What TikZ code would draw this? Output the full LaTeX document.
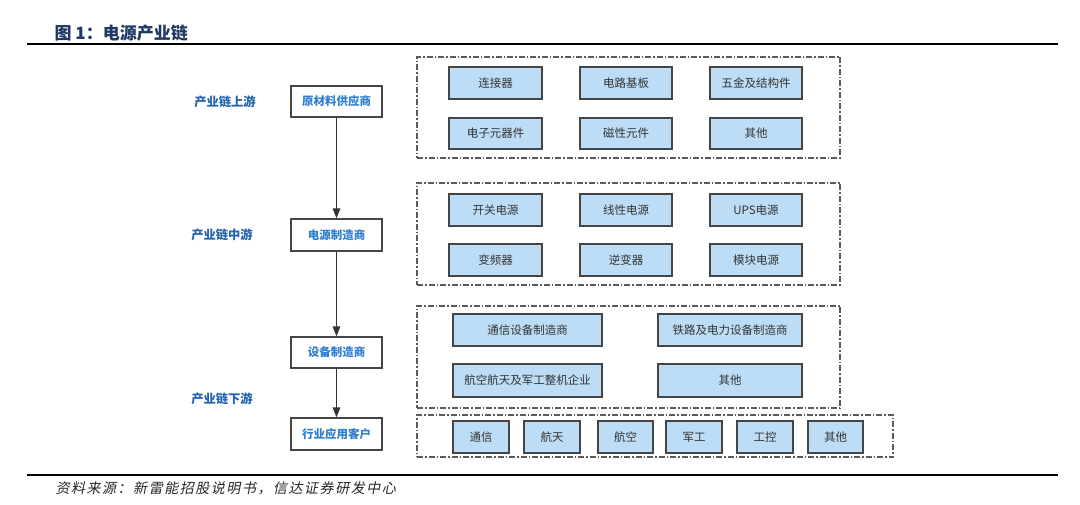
\documentclass[tikz,border=0pt]{standalone}
\usepackage{fontspec}
\setmainfont{Noto Sans CJK SC}
\newfontfamily\srcfont[FakeSlant=0.2, LetterSpace=11]{Noto Sans CJK SC}
\usetikzlibrary{arrows.meta}
\definecolor{boxfill}{HTML}{BDDDF6}
\definecolor{boxline}{HTML}{454545}
\definecolor{lbl}{HTML}{2463AE}
\definecolor{nodetxt}{HTML}{2F7FD0}
\definecolor{titlec}{HTML}{1F3864}
\definecolor{grp}{HTML}{5A5A5A}
\tikzset{
  cell/.style={draw=boxline, fill=boxfill, line width=1.2pt, inner sep=0pt,
    font=\fontsize{11.5}{13}\selectfont, text=black!80},
  chain/.style={draw=boxline, fill=white, line width=1.2pt, inner sep=0pt,
    minimum width=91pt, minimum height=31pt, font=\fontsize{11.5}{13}\selectfont\bfseries, text=nodetxt},
  stage/.style={font=\fontsize{12.3}{14}\selectfont\bfseries, text=lbl},
  group/.style={draw=grp, line width=1.2pt, dash pattern=on 6pt off 2pt on 1.5pt off 2pt, inner sep=0pt},
  arr/.style={draw=black!80, line width=1.6pt, -{Triangle[length=10pt,width=7.5pt]}}
}
\begin{document}
\begin{tikzpicture}[x=1pt,y=-1pt]
\useasboundingbox (0,0) rectangle (1080,505);
% title and rules
\node[anchor=west, font=\fontsize{17}{19}\selectfont\bfseries, text=titlec] (title) at (51,33) {图 1：电源产业链};
\draw[line width=2pt] (27,44.5) -- (1058,44.5);
\draw[line width=2pt] (27,475) -- (1058,475);
\node[anchor=west, font=\fontsize{14}{16}\srcfont, text=black!85] (src) at (52,488) {资料来源：新雷能招股说明书，信达证券研发中心};

% chain nodes
\node[chain] (a) at (336.5,101.5) {原材料供应商};
\node[chain, minimum height=32pt] (b) at (336.5,235) {电源制造商};
\node[chain] (c) at (336.5,352.5) {设备制造商};
\node[chain, minimum height=32pt] (d) at (336.5,434) {行业应用客户};
\draw[arr] (a) -- (b);
\draw[arr] (b) -- (c);
\draw[arr] (c) -- (d);

% stage labels
\node[stage] (s1) at (225,102) {产业链上游};
\node[stage] (s2) at (222,235) {产业链中游};
\node[stage] (s3) at (222,399) {产业链下游};

% groups
\node[group, minimum width=423pt, minimum height=101pt] (g1) at (628.5,107.5) {};
\node[group, minimum width=423pt, minimum height=102pt] (g2) at (628.5,234) {};
\node[group, minimum width=423pt, minimum height=102pt] (g3) at (628.5,357) {};
\node[group, minimum width=476pt, minimum height=42pt] (g4) at (655,436) {};

% group 1
\node[cell, minimum width=93pt, minimum height=32pt] (u1) at (495.5,83) {连接器};
\node[cell, minimum width=92pt, minimum height=32pt] (u2) at (626,83) {电路基板};
\node[cell, minimum width=92pt, minimum height=32pt] (u3) at (756,83) {五金及结构件};
\node[cell, minimum width=93pt, minimum height=31pt] (u4) at (495.5,133.5) {电子元器件};
\node[cell, minimum width=92pt, minimum height=31pt] (u5) at (626,133.5) {磁性元件};
\node[cell, minimum width=92pt, minimum height=31pt] (u6) at (756,133.5) {其他};

% group 2
\node[cell, minimum width=93pt, minimum height=32pt] (m1) at (495.5,210) {开关电源};
\node[cell, minimum width=92pt, minimum height=32pt] (m2) at (626,210) {线性电源};
\node[cell, minimum width=92pt, minimum height=32pt] (m3) at (756,210) {UPS电源};
\node[cell, minimum width=93pt, minimum height=32pt] (m4) at (495.5,260) {变频器};
\node[cell, minimum width=92pt, minimum height=32pt] (m5) at (626,260) {逆变器};
\node[cell, minimum width=92pt, minimum height=32pt] (m6) at (756,260) {模块电源};

% group 3
\node[cell, minimum width=149pt, minimum height=32pt] (e1) at (527.5,330) {通信设备制造商};
\node[cell, minimum width=144pt, minimum height=32pt] (e2) at (730,330) {铁路及电力设备制造商};
\node[cell, minimum width=149pt, minimum height=33pt] (e3) at (527.5,380.5) {航空航天及军工整机企业};
\node[cell, minimum width=144pt, minimum height=33pt] (e4) at (730,380.5) {其他};

% group 4
\node[cell, minimum width=56pt, minimum height=32pt] (k1) at (481,437) {通信};
\node[cell, minimum width=56pt, minimum height=32pt] (k2) at (552,437) {航天};
\node[cell, minimum width=55pt, minimum height=32pt] (k3) at (625.5,437) {航空};
\node[cell, minimum width=56pt, minimum height=32pt] (k4) at (694,437) {军工};
\node[cell, minimum width=56pt, minimum height=32pt] (k5) at (765,437) {工控};
\node[cell, minimum width=55pt, minimum height=32pt] (k6) at (835.5,437) {其他};
\end{tikzpicture}
\end{document}
